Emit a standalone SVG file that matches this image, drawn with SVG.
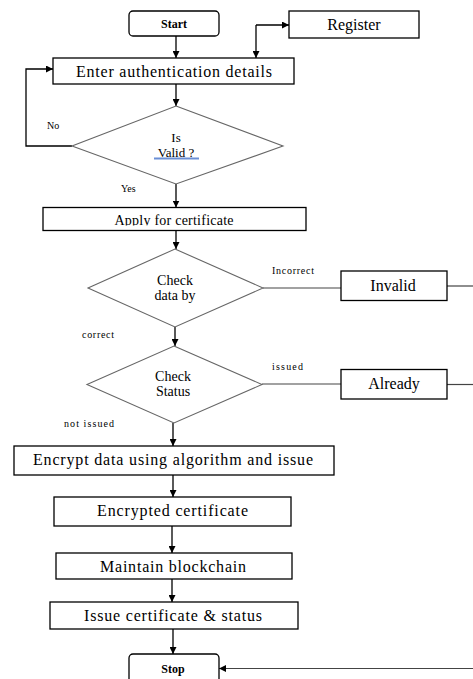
<svg xmlns="http://www.w3.org/2000/svg" width="473" height="679" viewBox="0 0 473 679">
<style>
.box{fill:#fff;stroke:#000;stroke-width:1.3}
.dia{fill:#fff;stroke:#666;stroke-width:1.1}
.t{fill:#000;text-anchor:middle}
.lbl{fill:#000;font-size:10px}
.c{fill:none;stroke:#000;stroke-width:1.3}
.cg{fill:none;stroke:#444;stroke-width:1.2}
</style>
<defs>
<marker id="ah" viewBox="0 0 10 10" refX="10" refY="5" markerWidth="7" markerHeight="7" markerUnits="userSpaceOnUse" orient="auto"><path d="M0,0 L10,5 L0,10 z" fill="#000"/></marker>
<clipPath id="clipApply"><rect x="43" y="207" width="264" height="18.5"/></clipPath>
</defs>
<g id="connectors" font-family="Liberation Serif, DejaVu Serif, serif">
<path class="c" d="M176,36 V58" marker-end="url(#ah)"/>
<path class="c" d="M256,25 V58" marker-end="url(#ah)"/>
<path class="c" d="M256,25 H289" marker-end="url(#ah)"/>
<path class="c" d="M176,84 V106" marker-end="url(#ah)"/>
<path class="c" d="M72,146 H26 V69 H53" marker-end="url(#ah)"/>
<path class="c" d="M176,184 V207.5" marker-end="url(#ah)"/>
<path class="c" d="M176,231 V249" marker-end="url(#ah)"/>
<path class="cg" d="M263,288 H341"/>
<path class="cg" d="M447,286 H473"/>
<path class="c" d="M175,327 V346" marker-end="url(#ah)"/>
<path class="cg" d="M262,384 H341"/>
<path class="cg" d="M447,384.5 H473"/>
<path class="c" d="M173,423 V446" marker-end="url(#ah)"/>
<path class="c" d="M173,475 V497" marker-end="url(#ah)"/>
<path class="c" d="M172,526 V553" marker-end="url(#ah)"/>
<path class="c" d="M172,579 V602" marker-end="url(#ah)"/>
<path class="c" d="M173,629 V654" marker-end="url(#ah)"/>
<path class="cg" d="M473,668.5 H219" marker-end="url(#ah)"/>
<text class="lbl" x="47" y="129">No</text>
<text class="lbl" x="121" y="192">Yes</text>
<text class="lbl" x="272" y="274" textLength="42">Incorrect</text>
<text class="lbl" x="82" y="338" textLength="32">correct</text>
<text class="lbl" x="272" y="370" textLength="31">issued</text>
<text class="lbl" x="64" y="427" textLength="50">not issued</text>
</g>
<g id="nodes" font-family="Liberation Serif, DejaVu Serif, serif">
<g id="start">
<rect class="box" x="129" y="11" width="90" height="25" rx="4"/>
<text class="t" x="174" y="28" font-size="12" font-weight="bold">Start</text>
</g>
<g id="register">
<rect class="box" x="289" y="11" width="130" height="27"/>
<text class="t" x="354" y="30" font-size="16">Register</text>
</g>
<g id="enter">
<rect class="box" x="53" y="58" width="241" height="26"/>
<text class="t" x="174" y="77" font-size="16" textLength="196">Enter authentication details</text>
</g>
<g id="isvalid">
<polygon class="dia" points="176,106 283,146 176,184 72,146"/>
<text class="t" x="176" y="142" font-size="13">Is</text>
<rect x="154" y="157.5" width="45" height="2" fill="#6b8fd6"/>
<text class="t" x="176" y="157" font-size="13">Valid ?</text>
</g>
<g id="apply">
<rect class="box" x="43" y="207.5" width="263" height="23"/>
<text class="t" x="174" y="225" font-size="14" textLength="119" clip-path="url(#clipApply)">Apply for certificate</text>
</g>
<g id="checkdata">
<polygon class="dia" points="175,249 263,288 175,327 88,288"/>
<text class="t" x="175" y="285" font-size="14">Check</text>
<text class="t" x="175" y="300" font-size="14">data by</text>
</g>
<g id="invalid">
<rect class="box" x="341" y="271" width="106" height="29.5"/>
<text class="t" x="393" y="291" font-size="16">Invalid</text>
</g>
<g id="checkstatus">
<polygon class="dia" points="174,346 262,384.5 174,423 87,384.5"/>
<text class="t" x="173" y="381" font-size="14">Check</text>
<text class="t" x="173" y="396" font-size="14">Status</text>
</g>
<g id="already">
<rect class="box" x="341" y="369.5" width="106" height="29.5"/>
<text class="t" x="394" y="389" font-size="16">Already</text>
</g>
<g id="encrypt">
<rect class="box" x="14" y="446" width="320" height="29"/>
<text class="t" x="173" y="465" font-size="16" textLength="280">Encrypt data using algorithm and issue</text>
</g>
<g id="encrypted">
<rect class="box" x="54" y="497" width="237" height="29"/>
<text class="t" x="172.5" y="516" font-size="16" textLength="151">Encrypted certificate</text>
</g>
<g id="maintain">
<rect class="box" x="56" y="553" width="236" height="26"/>
<text class="t" x="173" y="572" font-size="16" textLength="146">Maintain blockchain</text>
</g>
<g id="issue">
<rect class="box" x="50" y="602" width="248" height="27"/>
<text class="t" x="173" y="620.5" font-size="16" textLength="178">Issue certificate &amp; status</text>
</g>
<g id="stop">
<rect class="box" x="129" y="654" width="90" height="34" rx="4"/>
<text class="t" x="173" y="673" font-size="12" font-weight="bold">Stop</text>
</g>
</g>
</svg>
